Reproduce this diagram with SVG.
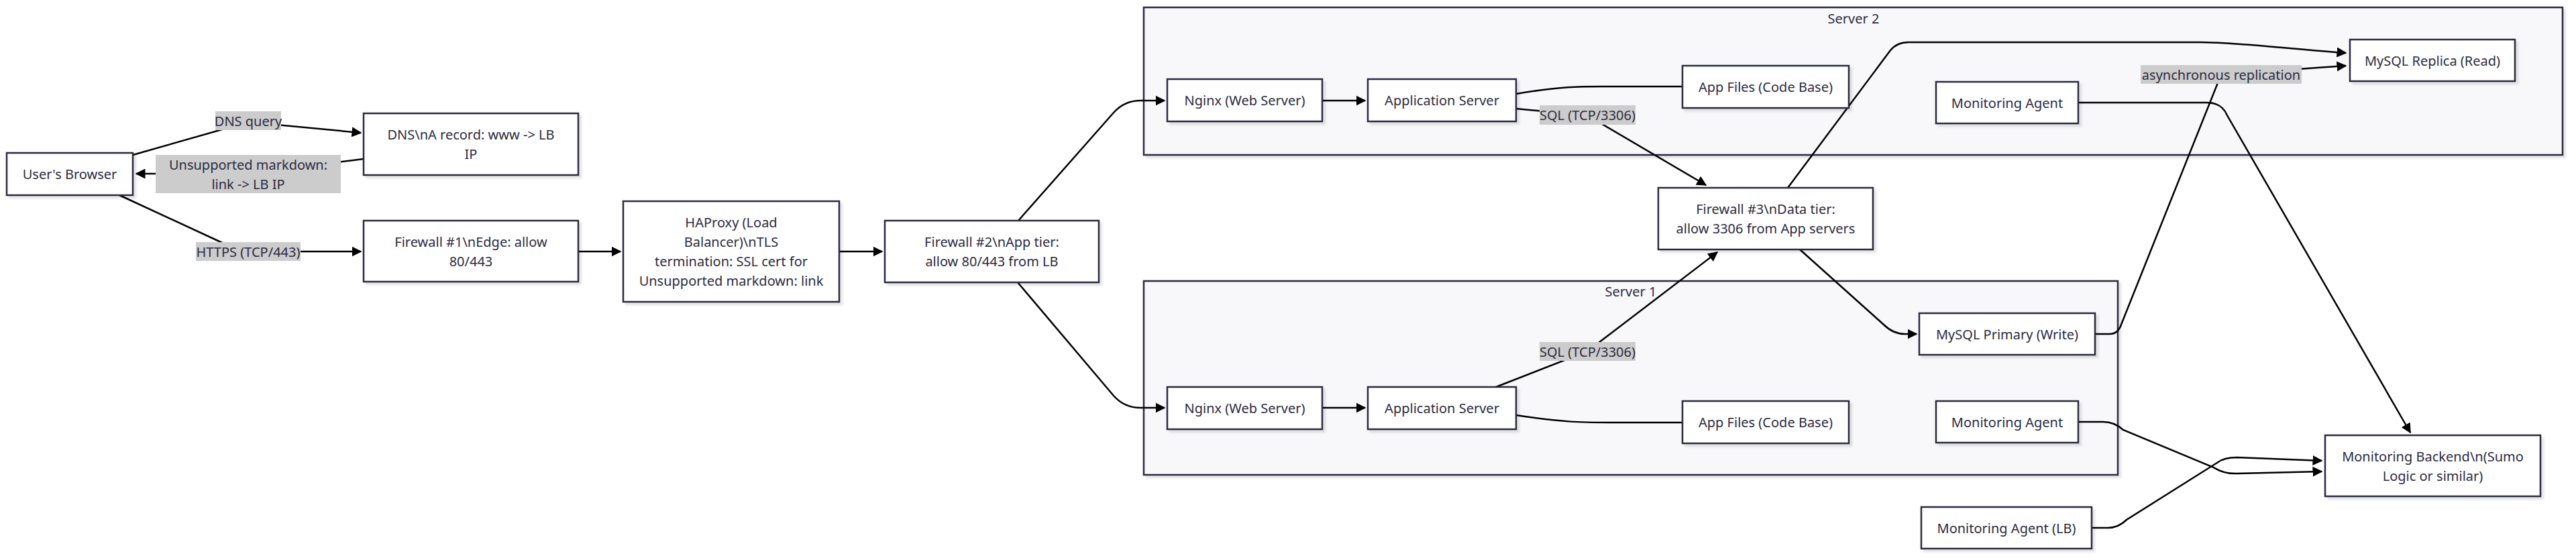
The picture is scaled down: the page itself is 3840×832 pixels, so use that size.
<svg xmlns="http://www.w3.org/2000/svg" width="3840" height="832" viewBox="0 0 3840 832">
<style>
  text { font-family: "Noto Sans", "Open Sans", sans-serif; font-size: 20px; fill: #2b2b40; text-anchor: middle; dominant-baseline: central; }
  .node rect { fill: #ffffff; stroke: #2b2b40; stroke-width: 2.5; filter: url(#shadow); }
  .cluster rect { fill: #f8f8fa; stroke: #2b2b40; stroke-width: 2.5; filter: url(#shadow); }
  .edge { fill: none; stroke: #000000; stroke-width: 2.5; }
  .arrow { marker-end: url(#arrowhead); }
  .elabel rect { fill: #cccccc; stroke: none; }
</style>
<defs>
  <filter id="shadow" x="-5%" y="-5%" width="115%" height="130%">
    <feDropShadow dx="4" dy="4" stdDeviation="1.5" flood-color="#000" flood-opacity="0.1"/>
  </filter>
  <marker id="arrowhead" viewBox="0 0 10 10" refX="9" refY="5" markerUnits="userSpaceOnUse" markerWidth="15" markerHeight="15" orient="auto">
    <path d="M0,0 L10,5 L0,10 z" fill="#000"/>
  </marker>
</defs>
<rect x="0" y="0" width="3840" height="832" fill="#ffffff"/>

<g id="server2" class="cluster">
  <rect x="1705" y="11" width="2115" height="220"/>
  <text x="2763" y="27">Server 2</text>
</g>
<g id="server1" class="cluster">
  <rect x="1705" y="419" width="1452" height="289"/>
  <text x="2431" y="434">Server 1</text>
</g>

<g id="edges">
  <path class="edge arrow" d="M 198 231 L 370 182 L 538 198"/>
  <path class="edge arrow" d="M 542 237 L 370 259 L 203 259"/>
  <path class="edge arrow" d="M 178 291 L 340 366 Q 360 375 380 375 L 538 375"/>
  <path class="edge arrow" d="M 862 375 L 925 375"/>
  <path class="edge arrow" d="M 1251 375 L 1315 375"/>
  <path class="edge arrow" d="M 1518 329 L 1660 168 Q 1676 150 1700 150 L 1736 150"/>
  <path class="edge arrow" d="M 1517 421 L 1660 590 Q 1676 608 1700 608 L 1736 608"/>
  <path class="edge arrow" d="M 1971 150 L 2035 150"/>
  <path class="edge arrow" d="M 1971 608 L 2035 608"/>
  <path class="edge" d="M 2260 140 C 2330 128 2360 129 2400 129 L 2508 129"/>
  <path class="edge" d="M 2260 619 C 2330 630 2360 630 2400 630 L 2508 630"/>
  <path class="edge arrow" d="M 2260 162 L 2366 172 L 2543 276"/>
  <path class="edge arrow" d="M 2230 577 L 2366 524 L 2560 376"/>
  <path class="edge arrow" d="M 2683 372 L 2808 484 Q 2822 498 2840 498 L 2857 498"/>
  <path class="edge arrow" d="M 2665 280 L 2818 75 Q 2828 63 2845 63 L 3280 63 C 3330 63 3380 70 3497 79"/>
  <path class="edge arrow" d="M 3123 498 L 3145 498 Q 3157 498 3162 484 L 3311 111 L 3497 98"/>
  <path class="edge arrow" d="M 3098 153 L 3290 153 Q 3312 153 3320 172 L 3593 645"/>
  <path class="edge arrow" d="M 3098 629 L 3135 629 Q 3152 629 3165 641 L 3300 697 Q 3315 707 3335 706 L 3461 703"/>
  <path class="edge arrow" d="M 3118 787 L 3142 787 Q 3158 787 3170 775 L 3305 690 Q 3315 682 3335 682 L 3461 687"/>

  <g class="elabel">
    <rect x="321" y="166" width="98" height="28"/>
    <text x="370" y="180">DNS query</text>
  </g>
  <g class="elabel">
    <rect x="232" y="231" width="276" height="57"/>
    <text x="370" y="245">Unsupported markdown:</text>
    <text x="370" y="274">link -&gt; LB IP</text>
  </g>
  <g class="elabel">
    <rect x="292" y="361" width="156" height="28"/>
    <text x="370" y="375">HTTPS (TCP/443)</text>
  </g>
  <g class="elabel">
    <rect x="2295" y="157" width="143" height="29"/>
    <text x="2366.5" y="171.5">SQL (TCP/3306)</text>
  </g>
  <g class="elabel">
    <rect x="2295" y="510" width="143" height="28"/>
    <text x="2366.5" y="524">SQL (TCP/3306)</text>
  </g>
  <g class="elabel">
    <rect x="3191" y="97" width="240" height="28"/>
    <text x="3311" y="111">asynchronous replication</text>
  </g>
</g>

<g id="browser" class="node">
  <rect x="10" y="228" width="188" height="63"/>
  <text x="104" y="259.5">User's Browser</text>
</g>
<g id="dns" class="node">
  <rect x="542" y="169" width="320" height="92"/>
  <text x="702" y="200.5">DNS\nA record: www -&gt; LB</text>
  <text x="702" y="229.5">IP</text>
</g>
<g id="fw1" class="node">
  <rect x="542" y="329" width="320" height="91"/>
  <text x="702" y="360">Firewall #1\nEdge: allow</text>
  <text x="702" y="389">80/443</text>
</g>
<g id="haproxy" class="node">
  <rect x="929" y="300" width="322" height="150"/>
  <text x="1090" y="331.5">HAProxy (Load</text>
  <text x="1090" y="360.5">Balancer)\nTLS</text>
  <text x="1090" y="389.5">termination: SSL cert for</text>
  <text x="1090" y="418.5">Unsupported markdown: link</text>
</g>
<g id="fw2" class="node">
  <rect x="1319" y="329" width="319" height="92"/>
  <text x="1478.5" y="360.5">Firewall #2\nApp tier:</text>
  <text x="1478.5" y="389.5">allow 80/443 from LB</text>
</g>
<g id="nginx2" class="node">
  <rect x="1740" y="118" width="231" height="63"/>
  <text x="1855.5" y="149.5">Nginx (Web Server)</text>
</g>
<g id="app2" class="node">
  <rect x="2039" y="118" width="221" height="63"/>
  <text x="2149.5" y="149.5">Application Server</text>
</g>
<g id="files2" class="node">
  <rect x="2508" y="98" width="248" height="63"/>
  <text x="2632" y="129.5">App Files (Code Base)</text>
</g>
<g id="mon2" class="node">
  <rect x="2886" y="122" width="212" height="62"/>
  <text x="2992" y="153">Monitoring Agent</text>
</g>
<g id="replica" class="node">
  <rect x="3503" y="59" width="246" height="62"/>
  <text x="3626" y="90">MySQL Replica (Read)</text>
</g>
<g id="nginx1" class="node">
  <rect x="1740" y="577" width="231" height="63"/>
  <text x="1855.5" y="608.5">Nginx (Web Server)</text>
</g>
<g id="app1" class="node">
  <rect x="2039" y="577" width="221" height="63"/>
  <text x="2149.5" y="608.5">Application Server</text>
</g>
<g id="files1" class="node">
  <rect x="2508" y="598" width="248" height="63"/>
  <text x="2632" y="629.5">App Files (Code Base)</text>
</g>
<g id="mon1" class="node">
  <rect x="2886" y="598" width="212" height="62"/>
  <text x="2992" y="629">Monitoring Agent</text>
</g>
<g id="fw3" class="node">
  <rect x="2472" y="280" width="320" height="92"/>
  <text x="2632" y="311.5">Firewall #3\nData tier:</text>
  <text x="2632" y="340.5">allow 3306 from App servers</text>
</g>
<g id="primary" class="node">
  <rect x="2861" y="467" width="262" height="62"/>
  <text x="2992" y="498">MySQL Primary (Write)</text>
</g>
<g id="monlb" class="node">
  <rect x="2864" y="756" width="254" height="62"/>
  <text x="2991" y="787">Monitoring Agent (LB)</text>
</g>
<g id="backend" class="node">
  <rect x="3466" y="649" width="321" height="91"/>
  <text x="3626.5" y="680">Monitoring Backend\n(Sumo</text>
  <text x="3626.5" y="709">Logic or similar)</text>
</g>
</svg>
